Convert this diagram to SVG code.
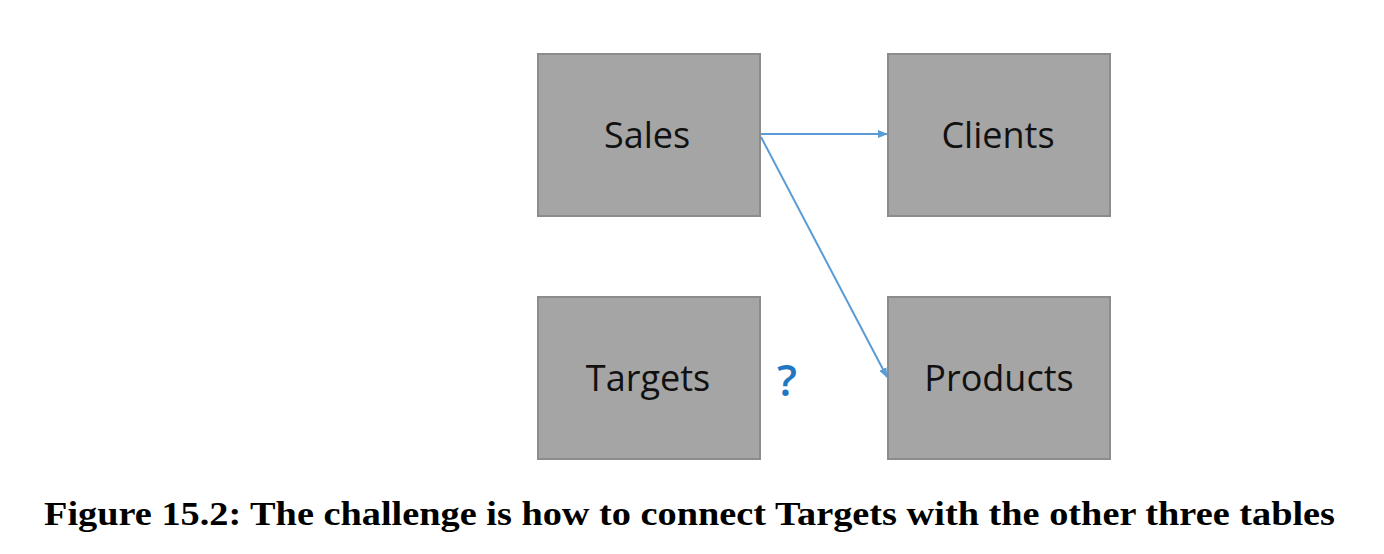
<svg xmlns="http://www.w3.org/2000/svg" width="1384" height="554" viewBox="0 0 1384 554">
<style>
.box{fill:#a5a5a5;stroke:#8c8c8c;stroke-width:2}
.lbl{font-family:"Open Sans","Liberation Sans",sans-serif;font-size:36px;fill:#111;text-anchor:middle}
.conn{stroke:#5b9bd5;stroke-width:2;fill:none}
.cap{font-family:"Liberation Serif",serif;font-weight:bold;font-size:34px;fill:#000}
</style>
<defs>
<marker id="ah" markerWidth="10" markerHeight="8" refX="9" refY="4" orient="auto" markerUnits="userSpaceOnUse">
<path d="M0,0 L10,4 L0,8 Z" fill="#5b9bd5"/>
</marker>
</defs>
<rect width="1384" height="554" fill="#fff"/>
<g id="sales"><rect class="box" x="538" y="54" width="222" height="162"/><text class="lbl" x="647" y="148">Sales</text></g>
<g id="clients"><rect class="box" x="888" y="54" width="222" height="162"/><text class="lbl" x="998" y="148">Clients</text></g>
<g id="targets"><rect class="box" x="538" y="297" width="222" height="162"/><text class="lbl" x="648" y="391">Targets</text></g>
<g id="products"><rect class="box" x="888" y="297" width="222" height="162"/><text class="lbl" x="999" y="391">Products</text></g>
<g id="connectors">
<line class="conn" x1="761" y1="134" x2="887" y2="134" marker-end="url(#ah)"/>
<line class="conn" x1="761" y1="137" x2="887" y2="377" marker-end="url(#ah)"/>
</g>
<text x="787" y="396" font-family="Open Sans, Liberation Sans, sans-serif" font-size="44" font-weight="600" fill="#1f78c1" text-anchor="middle">?</text>
<text class="cap" x="44" y="525" textLength="1291" lengthAdjust="spacingAndGlyphs">Figure 15.2: The challenge is how to connect Targets with the other three tables</text>
</svg>
